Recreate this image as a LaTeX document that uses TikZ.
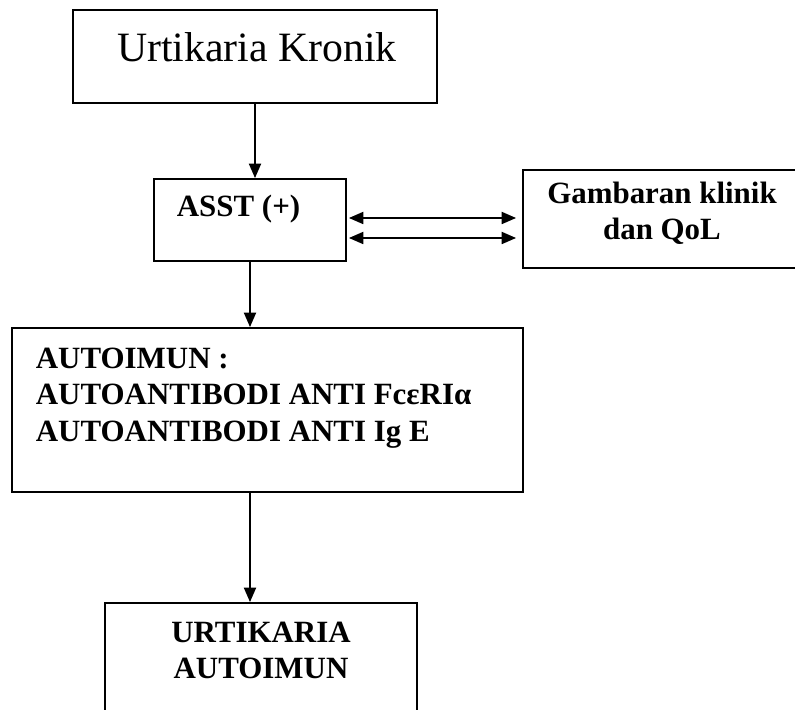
\documentclass[tikz,border=0pt]{standalone}
\usepackage{fontspec}
\setmainfont{Liberation Serif}
\usetikzlibrary{arrows.meta}

\tikzset{
  kotak/.style={draw,line width=1.3pt,inner sep=0pt},
  tulis/.style={inner sep=0pt,font=\fontsize{22}{26}\selectfont\bfseries},
}

\begin{document}
\begin{tikzpicture}[>={Triangle[length=0.36cm,width=0.3cm]},line width=1.3pt]
    \clip (0,0) rectangle (19.875,17.75);
    \node[kotak,minimum width=9.1cm,minimum height=2.325cm] (kronik) at (6.375,16.3375) {};
    \node[inner sep=0pt,anchor=base,font=\fontsize{29.7}{34}\selectfont] (tkronik) at (6.425,16.2) {Urtikaria Kronik};
    \node[kotak,minimum width=4.8cm,minimum height=2.05cm] (asst) at (6.25,12.25) {};
    \node[tulis,anchor=base west] (tasst) at (4.4,12.325) {ASST (+)};
    \node[kotak,minimum width=7.175cm,minimum height=2.45cm] (gamb) at (16.6625,12.275) {};
    \node[tulis,anchor=north,align=center] (tgamb) at (16.55,13.225) {Gambaran klinik\\dan QoL};
    \node[kotak,minimum width=12.775cm,minimum height=4.1cm] (auto) at (6.6875,7.5) {};
    \node[tulis,anchor=north west,align=left] (tauto) at (0.875,9.075) {AUTOIMUN :\\AUTOANTIBODI ANTI FcεRIα\\AUTOANTIBODI ANTI Ig E};
    \node[kotak,minimum width=7.8cm,minimum height=3.425cm] (urt) at (6.525,0.9625) {};
    \node[tulis,anchor=north,align=center] (turt) at (6.525,2.225) {URTIKARIA\\AUTOIMUN};
    \draw[->] (kronik.south) -- (kronik.south |- asst.north);
    \draw[<->,shorten <=0.05cm,shorten >=0.15cm] ([yshift=0.05cm]asst.east) -- ([yshift=0.05cm]asst.east -| gamb.west);
    \draw[<->,shorten <=0.05cm,shorten >=0.15cm] ([yshift=-0.45cm]asst.east) -- ([yshift=-0.45cm]asst.east -| gamb.west);
    \draw[->] (asst.south) -- (asst.south |- auto.north);
    \draw[->] (asst.south |- auto.south) -- (asst.south |- urt.north);
\end{tikzpicture}
\end{document}
